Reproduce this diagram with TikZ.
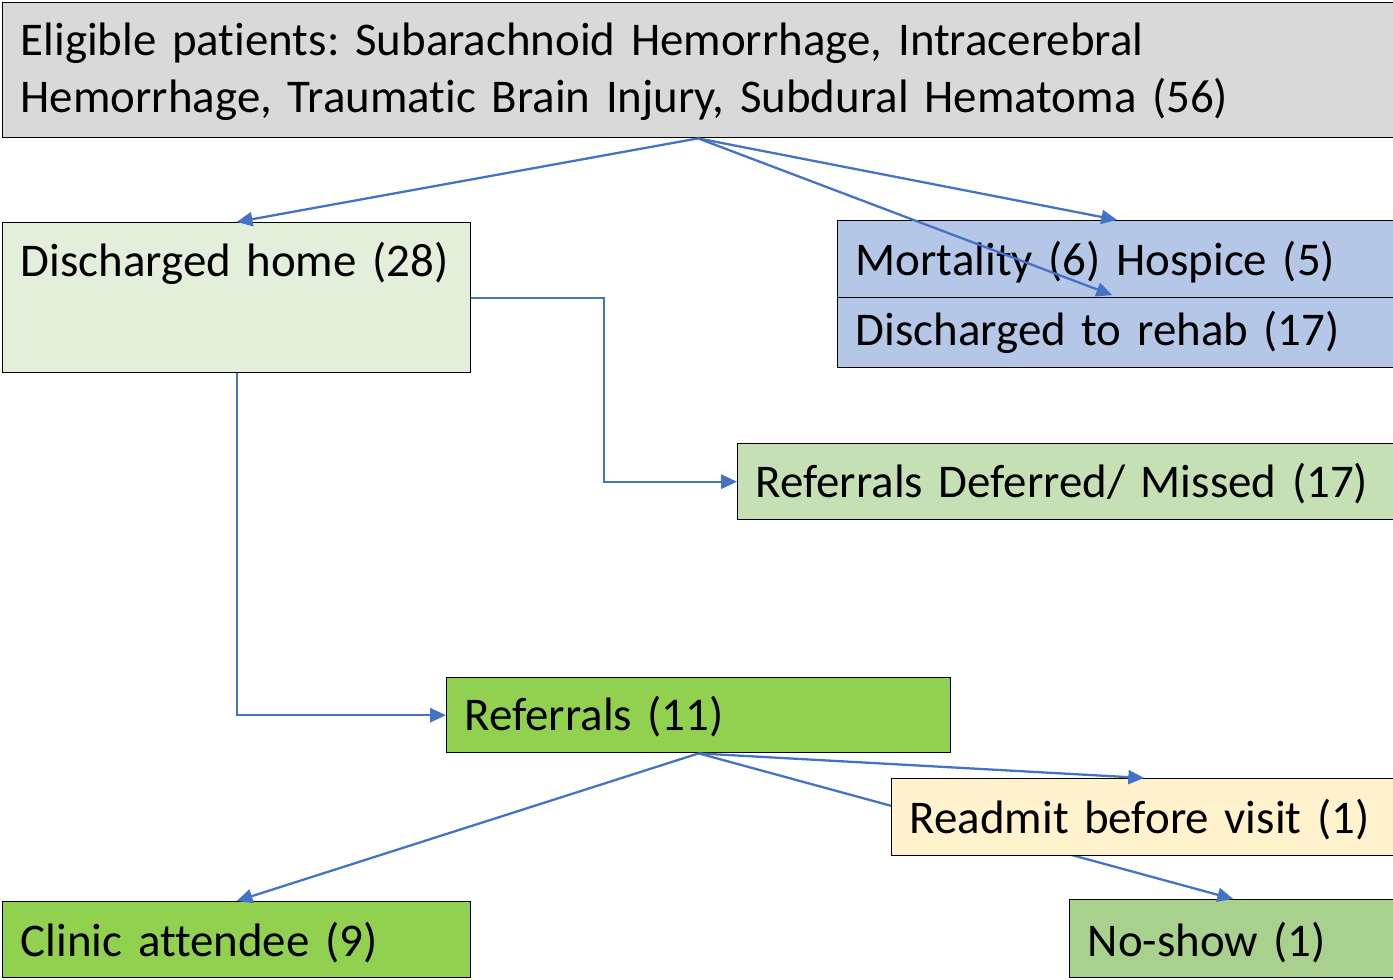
\documentclass[tikz,border=0pt]{standalone}
\usepackage{fontspec}
\setmainfont{Carlito}[Ligatures=NoCommon]
\usepackage{xcolor}
\usetikzlibrary{
    arrows.meta,
    calc,
    positioning
}

\definecolor{flowblue}{HTML}{4472C4}
\definecolor{topgray}{HTML}{D9D9D9}
\definecolor{homegreen}{HTML}{E2EFDA}
\definecolor{rightblue}{HTML}{B4C7E7}
\definecolor{deferredgreen}{HTML}{C5E0B4}
\definecolor{brightgreen}{HTML}{92D050}
\definecolor{readmityellow}{HTML}{FFF2CC}
\definecolor{noshowgreen}{HTML}{A9D18E}

\tikzset{
    box/.style={draw=black, line width=0.8pt, anchor=north west, align=left,
        inner xsep=0.36cm, inner ysep=0pt,
        font=\fontsize{26.7}{32.3}\selectfont\frenchspacing},
    flow/.style={draw=flowblue, line width=1.3pt, -{Triangle[length=9pt, width=8pt]}}
}

\begin{document}
\begin{tikzpicture}[x=0.02cm, y=-0.02cm]
                                \useasboundingbox (0, 0) rectangle (1393, 980);
                                \clip (0, 0) rectangle (1393, 980);
                                \node[box, fill=topgray, text width=27.1cm, text height=1.06cm, text depth=1.64cm] (top) at (2, 2)
                                    {Eligible patients: Subarachnoid Hemorrhage, Intracerebral\\Hemorrhage, Traumatic Brain Injury, Subdural Hematoma (56)};
                                \node[box, fill=homegreen, text width=8.64cm, text height=1.08cm, text depth=1.92cm] (home) at (2, 222) {Discharged home (28)};
                                \node[box, fill=rightblue, text width=10.46cm, text height=1.1cm, text depth=0.44cm] (mort) at (837, 220) {Mortality (6) Hospice (5)};
                                \node[box, fill=rightblue, text width=10.46cm, text height=0.96cm, text depth=0.44cm] (rehab) at (837, 297) {Discharged to rehab (17)};
                                \node[box, fill=deferredgreen, text width=12.46cm, text height=1.08cm, text depth=0.44cm] (deferred) at (737, 443) {Referrals Deferred/ Missed (17)};
                                \node[box, fill=brightgreen, text width=9.36cm, text height=1.06cm, text depth=0.44cm] (referrals) at (446, 677) {Referrals (11)};
                                \node[box, fill=brightgreen, text width=8.64cm, text height=1.1cm, text depth=0.42cm] (clinic) at (2, 901) {Clinic attendee (9)};
                                \node[box, fill=noshowgreen, text width=5.82cm, text height=1.14cm, text depth=0.42cm] (noshow) at (1069, 899) {No-show (1)};
                                \draw[flow] (referrals.south) -- (noshow.north);
                                \node[box, fill=readmityellow, text width=9.38cm, text height=1.1cm, text depth=0.44cm] (readmit) at (891, 778) {Readmit before visit (1)};
                                \draw[flow] (top.south) -- (home.north);
                                \draw[flow] (top.south) -- (mort.north);
                                \draw[flow, shorten >=3pt] (top.south) -- (rehab.north);
                                \draw[flow] (home.east) -| ($(home.east)!0.5!(deferred.west)$) |- (deferred.west);
                                \draw[flow] (home.south) |- (referrals.west);
                                \draw[flow] (referrals.south) -- (clinic.north);
                                \draw[flow] (referrals.south) -- (readmit.north);
                            \end{tikzpicture}
\end{document}
